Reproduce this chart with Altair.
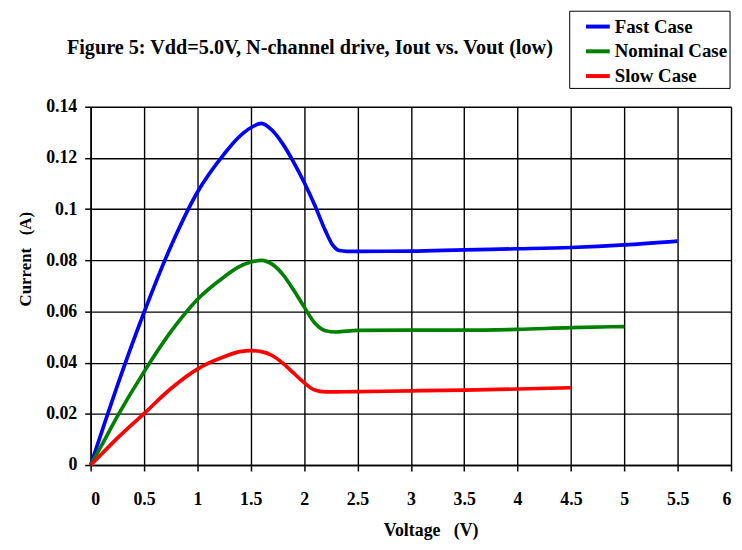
import altair as alt
import pandas as pd

# ---- data ----
fast_v = [0, 0.1, 0.25, 0.5, 0.75, 1.0, 1.25, 1.38, 1.5, 1.6, 1.7, 1.8, 1.9, 2.0, 2.1, 2.2, 2.27, 2.33, 2.4, 2.5, 3.0, 3.5, 4.0, 4.5, 5.0, 5.5]
fast_i = [0, 0.0125, 0.031, 0.0596, 0.0853, 0.1066, 0.1215, 0.1278, 0.1318, 0.1335, 0.1308, 0.1255, 0.1185, 0.1105, 0.1015, 0.0915, 0.0858, 0.0838, 0.0835, 0.0835, 0.0836, 0.0841, 0.0845, 0.085, 0.086, 0.0875]

nominal_v = [0, 0.1, 0.25, 0.5, 0.75, 1.0, 1.25, 1.38, 1.5, 1.6, 1.7, 1.8, 1.9, 2.0, 2.1, 2.2, 2.3, 2.5, 3.0, 3.5, 4.0, 4.5, 5.0]
nominal_i = [0, 0.0075, 0.019, 0.0364, 0.052, 0.0647, 0.0735, 0.0772, 0.0793, 0.080, 0.0785, 0.0745, 0.0685, 0.0618, 0.0555, 0.0525, 0.052, 0.0526, 0.0527, 0.0527, 0.053, 0.0537, 0.0541]

slow_v = [0, 0.1, 0.25, 0.5, 0.75, 1.0, 1.25, 1.4, 1.5, 1.6, 1.7, 1.8, 1.9, 2.0, 2.1, 2.2, 2.5, 3.0, 3.5, 4.0, 4.5]
slow_i = [0, 0.0042, 0.0105, 0.0201, 0.0298, 0.0375, 0.0423, 0.0443, 0.0447, 0.0443, 0.0428, 0.0398, 0.036, 0.0322, 0.0293, 0.0286, 0.0287, 0.029, 0.0293, 0.0297, 0.0302]

series_names = ["Fast Case", "Nominal Case", "Slow Case"]
series_colors = ["#0000FF", "#008000", "#FF0000"]
x_ticks = [0, 0.5, 1, 1.5, 2, 2.5, 3, 3.5, 4, 4.5, 5, 5.5, 6]
y_ticks = [0, 0.02, 0.04, 0.06, 0.08, 0.1, 0.12, 0.14]

rows = []
for name, vs, cs in zip(series_names, [fast_v, nominal_v, slow_v], [fast_i, nominal_i, slow_i]):
    for v, c in zip(vs, cs):
        rows.append({"Case": name, "Voltage": v, "Current": c})
df = pd.DataFrame(rows)

FONT = "Liberation Serif"
NB = "\u00a0"

chart = alt.Chart(df).mark_line(strokeWidth=3.7, interpolate="monotone").encode(
    x=alt.X(
        "Voltage:Q",
        scale=alt.Scale(domain=[0, 6], nice=False, zero=False),
        axis=alt.Axis(
            values=x_ticks,
            format=".1~f",
            title="Voltage" + NB * 3 + "(V)",
            titleX=343.5,
            titleY=71,
            titleBaseline="alphabetic",
            labelPadding=20,
        ),
    ),
    y=alt.Y(
        "Current:Q",
        scale=alt.Scale(domain=[0, 0.14], nice=False),
        axis=alt.Axis(
            values=y_ticks,
            format=".2~f",
            title="Current" + NB * 3 + "(A)",
            titleX=-61,
            titleY=153.5,
            titleAngle=270,
            titleAlign="center",
            titleBaseline="alphabetic",
            labelPadding=8,
        ),
    ),
    color=alt.Color(
        "Case:N",
        scale=alt.Scale(domain=series_names, range=series_colors),
        sort=series_names,
        legend=alt.Legend(
            title=None,
            orient="none",
            legendX=483.5,
            legendY=-97,
            symbolType="stroke",
            symbolStrokeWidth=4,
            symbolSize=576,
            symbolOffset=13,
            labelOffset=3,
            padding=2,
            rowPadding=1,
            strokeColor="#000000",
            fillColor="#ffffff",
            labelFont=FONT,
            labelFontSize=19,
            labelFontWeight="bold",
            labelColor="#000000",
        ),
    ),
).properties(
    width=647,
    height=362,
    autosize=alt.AutoSizeParams(type="none"),
    padding={"left": 83.5, "top": 97, "right": 3, "bottom": 76},
    title=alt.TitleParams(
        text="Figure 5: Vdd=5.0V, N-channel drive, Iout vs. Vout (low)",
        font=FONT,
        fontSize=20.4,
        fontWeight="bold",
        color="#000000",
        anchor="middle",
        frame="group",
        dx=-102,
        offset=-49,
    ),
).configure_view(
    stroke=None
).configure_axis(
    labelFont=FONT,
    labelFontSize=18,
    labelFontWeight="bold",
    labelColor="#000000",
    titleFont=FONT,
    titleFontSize=18,
    titleFontWeight="bold",
    titleColor="#000000",
    domainColor="#000000",
    domainWidth=1.5,
    tickColor="#000000",
    tickSize=6,
    tickWidth=1.5,
    gridColor="#000000",
    gridWidth=1.4,
    gridOpacity=1,
    grid=True,
).configure_axisY(
    titleFontSize=17,
)

chart.save("out.html", embed_options={"renderer": "svg", "actions": False})
